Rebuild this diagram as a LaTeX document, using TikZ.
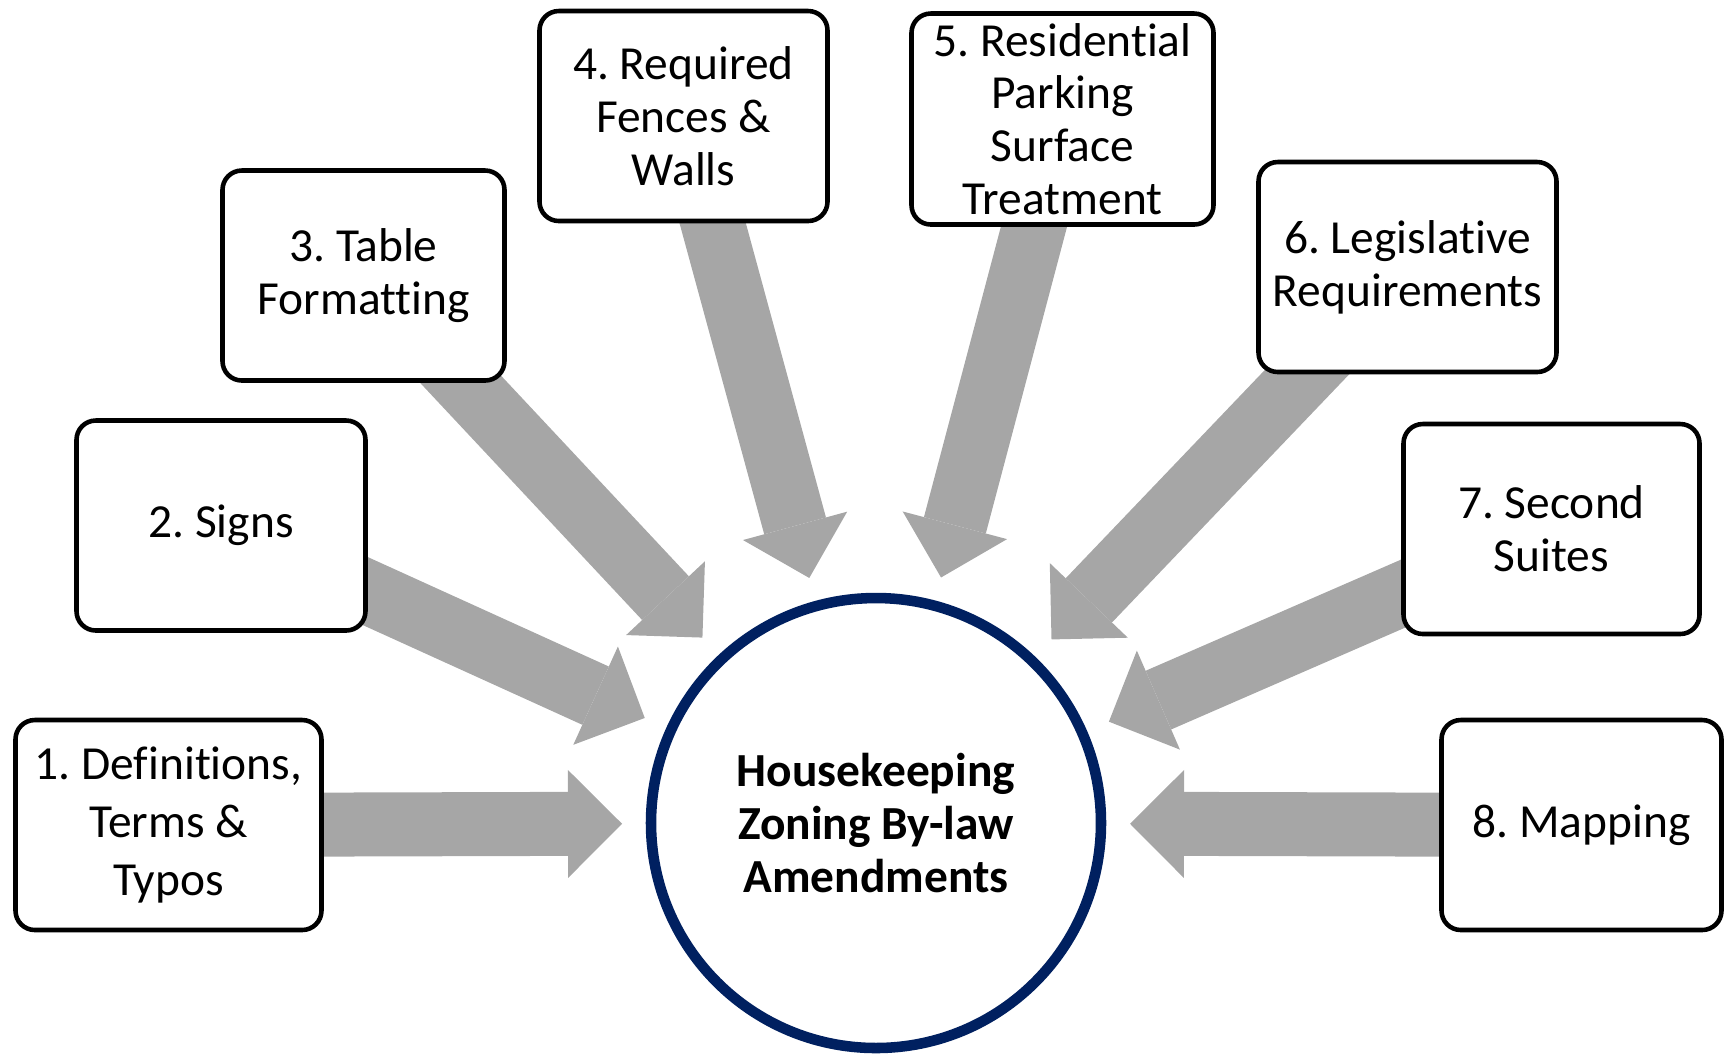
\documentclass[tikz,border=0pt]{standalone}
\usepackage{fontspec}
\setmainfont{Carlito}[Ligatures={NoCommon,NoRequired,NoContextual}, Contextuals=NoAlternate]
\frenchspacing
\usetikzlibrary{arrows.meta, backgrounds}
\definecolor{hubblue}{HTML}{002060}
\definecolor{feedgray}{HTML}{A6A6A6}

\begin{document}
\begin{tikzpicture}[
    topic/.style={
        rectangle, draw, line width=1.3pt, rounded corners=5.5pt,
        fill=white, align=center, minimum height=2.10cm, inner sep=2pt,
        font=\fontsize{13.5}{15}\selectfont
    },
    hub/.style={
        circle, draw=hubblue, line width=3pt, fill=white,
        minimum size=4.5cm, align=center,
        font=\fontsize{13.5}{15}\selectfont\bfseries
    },
    feed/.style={
        feedgray, line width=0.64cm, shorten >=2.54cm,
        -{Triangle[width=1.08cm, length=0.54cm, line width=0pt]}
    },
]
\useasboundingbox (0,0) rectangle (17.26,-10.55);

%% Centre circle
\node[hub] (hub) at (8.76,-8.23) {Housekeeping\\ Zoning By-law\\ Amendments};

%% Topic boxes, left to right
\node[topic, minimum width=3.06cm, font=\fontsize{13.5}{16.5}\selectfont] (defs) at (1.685,-8.25)
    {1. Definitions,\\ Terms \&\\ Typos};
\node[topic, minimum width=2.89cm] (signs)    at (2.21,-5.255)  {2. Signs};
\node[topic, minimum width=2.82cm] (tablefmt) at (3.635,-2.755) {3. Table\\ Formatting};
\node[topic, minimum width=2.88cm] (fences)   at (6.835,-1.16)  {4. Required\\ Fences \&\\ Walls};
\node[topic, minimum width=3.02cm, minimum height=2.11cm] (parking) at (10.625,-1.19)
    {5. Residential\\ Parking\\ Surface\\ Treatment};
\node[topic, minimum width=2.98cm] (legis)    at (14.075,-2.67) {6. Legislative\\ Requirements};
\node[topic, minimum width=2.96cm] (suites)   at (15.515,-5.29) {7. Second\\ Suites};
\node[topic, minimum width=2.80cm] (mapping)  at (15.815,-8.25) {8. Mapping};

%% Block arrows into the circle
\begin{pgfonlayer}{background}
\draw[feed] (defs.center)     -- (hub.center);
\draw[feed] (signs.center)    -- (hub.center);
\draw[feed] (tablefmt.center) -- (hub.center);
\draw[feed] (fences.center)   -- (hub.center);
\draw[feed] (parking.center)  -- (hub.center);
\draw[feed] (legis.center)    -- (hub.center);
\draw[feed] (suites.center)   -- (hub.center);
\draw[feed] (mapping.center)  -- (hub.center);
\end{pgfonlayer}

\end{tikzpicture}
\end{document}
